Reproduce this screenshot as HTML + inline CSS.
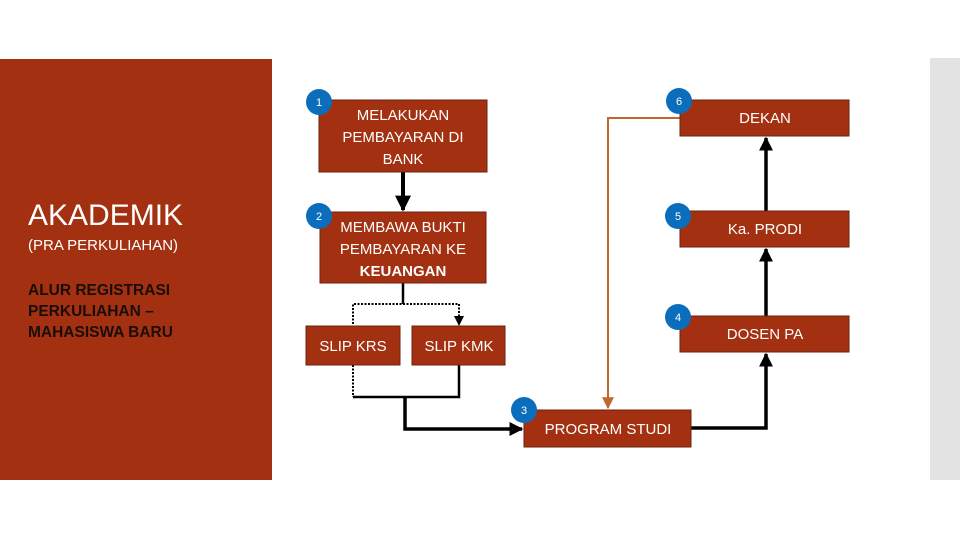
<!DOCTYPE html>
<html><head><meta charset="utf-8"><style>
html,body{margin:0;padding:0;background:#fff;}
svg{display:block;}
text{font-family:"Liberation Sans",sans-serif;}
</style></head><body>
<svg width="960" height="540" viewBox="0 0 960 540" xmlns="http://www.w3.org/2000/svg">
<defs>
<marker id="a" viewBox="0 0 10 10" refX="9" refY="5" markerWidth="4" markerHeight="4" orient="auto"><path d="M0,0L10,5L0,10z" fill="#000"/></marker>
<marker id="b" viewBox="0 0 10 10" refX="9" refY="5" markerWidth="5" markerHeight="5" orient="auto"><path d="M0,0L10,5L0,10z" fill="#000"/></marker>
<marker id="o" viewBox="0 0 10 10" refX="9" refY="5" markerWidth="6" markerHeight="6" orient="auto"><path d="M0,0L10,5L0,10z" fill="#C0672E"/></marker>
</defs>
<rect x="0" y="59" width="272" height="421" fill="#A33111"/>
<rect x="930" y="58" width="30" height="422" fill="#E3E3E3"/>
<text x="28" y="225" fill="#fff" font-size="30">AKADEMIK</text>
<text x="28" y="250" fill="#fff" font-size="15">(PRA PERKULIAHAN)</text>
<g fill="#1a0d08" font-size="15.5" font-weight="bold"><text x="28" y="295">ALUR REGISTRASI</text><text x="28" y="316">PERKULIAHAN –</text><text x="28" y="337">MAHASISWA BARU</text></g>

<g stroke="#000" fill="none">
<line x1="403" y1="172" x2="403" y2="210" stroke-width="4" marker-end="url(#a)"/>
<line x1="403" y1="283" x2="403" y2="304" stroke-width="2.5"/>
<path d="M353,331 V304 H459 V325" stroke-width="2" stroke-dasharray="2,1.5" marker-end="url(#b)"/>
<path d="M353,365 V397" stroke-width="2" stroke-dasharray="2,1.5"/>
<path d="M353,397 H459 V365" stroke-width="2.5"/>
<path d="M405,397 V429 H522" stroke-width="3.5" marker-end="url(#a)"/>
<path d="M691,428 H766 V354" stroke-width="3.5" marker-end="url(#a)"/>
<line x1="766" y1="316" x2="766" y2="249" stroke-width="3.5" marker-end="url(#a)"/>
<line x1="766" y1="211" x2="766" y2="138" stroke-width="3.5" marker-end="url(#a)"/>
</g>
<path d="M680,118 H608 V408" stroke="#C0672E" stroke-width="2" fill="none" marker-end="url(#o)"/>

<g fill="#A33111" stroke="#6b2210" stroke-width="1">
<rect x="319" y="100" width="168" height="72"/>
<rect x="320" y="212" width="166" height="71"/>
<rect x="306" y="326" width="94" height="39"/>
<rect x="412" y="326" width="93" height="39"/>
<rect x="524" y="410" width="167" height="37"/>
<rect x="680" y="100" width="169" height="36"/>
<rect x="680" y="211" width="169" height="36"/>
<rect x="680" y="316" width="169" height="36"/>
</g>
<g fill="#fff" font-size="15" text-anchor="middle">
<text x="403" y="120">MELAKUKAN</text><text x="403" y="142">PEMBAYARAN DI</text><text x="403" y="164">BANK</text>
<text x="403" y="232">MEMBAWA BUKTI</text><text x="403" y="254">PEMBAYARAN KE</text><text x="403" y="276" font-weight="bold">KEUANGAN</text>
<text x="353" y="351">SLIP KRS</text><text x="459" y="351">SLIP KMK</text>
<text x="608" y="434">PROGRAM STUDI</text>
<text x="765" y="123">DEKAN</text><text x="765" y="234">Ka. PRODI</text><text x="765" y="339">DOSEN PA</text>
</g>
<g fill="#0A6EBD">
<circle cx="319" cy="102" r="13"/><circle cx="319" cy="216" r="13"/><circle cx="524" cy="410" r="13"/>
<circle cx="679" cy="101" r="13"/><circle cx="678" cy="216" r="13"/><circle cx="678" cy="317" r="13"/>
</g>
<g fill="#fff" font-size="11" text-anchor="middle">
<text x="319" y="106">1</text><text x="319" y="220">2</text><text x="524" y="414">3</text>
<text x="679" y="105">6</text><text x="678" y="220">5</text><text x="678" y="321">4</text>
</g>
</svg>
</body></html>
